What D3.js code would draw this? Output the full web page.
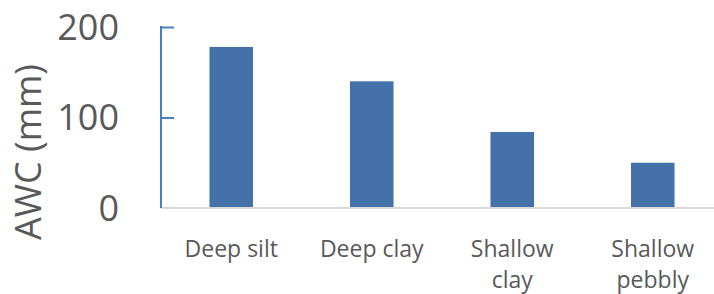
<!DOCTYPE html>
<html>
<head>
<meta charset="utf-8">
<script src="https://cdn.jsdelivr.net/npm/d3@7"></script>
<style>
  body { margin: 0; background: #fff; }
  text { font-family: "Open Sans", sans-serif; fill: #595959; }
</style>
</head>
<body>
<svg id="vis" width="714" height="294"></svg>
<script>
var categories = [["Deep silt"], ["Deep clay"], ["Shallow", "clay"], ["Shallow", "pebbly"]];
var values = [178, 140, 84, 50];
var yTicks = [0, 100, 200];

var svg = d3.select("#vis");

// plot area runs past the right edge, as in the original crop
var x = d3.scaleBand()
    .domain(d3.range(categories.length))
    .range([161, 723])
    .paddingInner(0.69)
    .paddingOuter(0.345);

var y = d3.scaleLinear()
    .domain([0, 200])
    .range([208, 27]);

// bars
svg.append("g")
  .selectAll("rect")
  .data(values)
  .enter().append("rect")
    .attr("x", function(d, i) { return x(i); })
    .attr("y", function(d) { return y(d); })
    .attr("width", x.bandwidth())
    .attr("height", function(d) { return y(0) - y(d); })
    .attr("fill", "#4472a8");

// x axis line
svg.append("line")
    .attr("x1", 161).attr("x2", 714)
    .attr("y1", y(0)).attr("y2", y(0))
    .attr("stroke", "#d9d9d9")
    .attr("stroke-width", 2);

// y axis, ticks pointing inward
var yAxis = svg.append("g")
    .attr("transform", "translate(161,0)")
    .call(d3.axisRight(y).tickValues([100, 200]).tickSize(13).tickFormat(""));
yAxis.select(".domain").remove();
yAxis.selectAll("line").attr("stroke", "#4a7ebb").attr("stroke-width", 2);
svg.append("line")
    .attr("x1", 161).attr("x2", 161)
    .attr("y1", y(200) - 1).attr("y2", y(0))
    .attr("stroke", "#4a7ebb")
    .attr("stroke-width", 2);

// y tick labels
svg.append("g")
  .selectAll("text")
  .data(yTicks)
  .enter().append("text")
    .attr("x", 119)
    .attr("y", function(d) { return y(d); })
    .attr("dy", "0.35em")
    .attr("text-anchor", "end")
    .style("font-size", "36px")
    .text(function(d) { return d; });

// category labels
var lab = svg.append("g")
  .selectAll("text")
  .data(categories)
  .enter().append("text")
    .attr("text-anchor", "middle")
    .style("font-size", "23px")
    .attr("transform", function(d, i) { return "translate(" + (x(i) + x.bandwidth() / 2) + ",0)"; });
lab.selectAll("tspan")
  .data(function(d) { return d; })
  .enter().append("tspan")
    .attr("x", 0)
    .attr("y", function(d, j) { return 257 + j * 31; })
    .text(function(d) { return d; });

// y title
svg.append("text")
    .attr("transform", "translate(41,152) rotate(-90)")
    .attr("text-anchor", "middle")
    .style("font-size", "36px")
    .text("AWC (mm)");
</script>
</body>
</html>
